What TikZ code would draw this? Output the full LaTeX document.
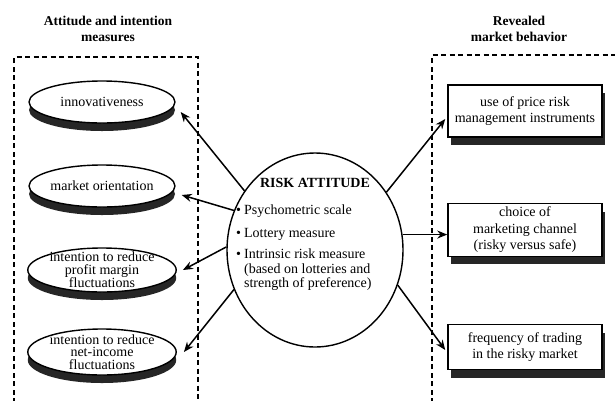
\documentclass[tikz,border=0pt]{standalone}
\usepackage{fontspec}
\setmainfont{Liberation Serif}
\usetikzlibrary{shapes,shadows,calc,arrows.meta}

\tikzset{
  disc/.style={ellipse, draw, line width=1.4pt, fill=white, minimum width=146pt, minimum height=42pt,
    inner xsep=0pt, inner ysep=-5pt, align=center, font=\fontsize{14}{12.5}\selectfont,
    general shadow={fill=black!85, shadow yshift=-8pt}},
  outcome/.style={rectangle, draw, line width=1.5pt, fill=white, minimum width=154pt, align=center,
    font=\fontsize{14}{16.5}\selectfont,
    general shadow={fill=black!85, shadow xshift=3pt, shadow yshift=-8pt}},
  group/.style={line width=1.6pt, dash pattern=on 5pt off 3.5pt},
  arr/.style={line width=1.5pt, -{Stealth[length=10pt,width=8pt]}},
  heading/.style={font=\bfseries\fontsize{13.5}{16}\selectfont, align=center}
}

\begin{document}
\begin{tikzpicture}[x=1pt, y=-1pt, font=\fontsize{14}{15}\selectfont]
	\useasboundingbox (0,0) rectangle (615,400);
	\fill[white] (0,0) rectangle (615,400);

	% the two groups
	\node[heading] (leftHead) at (108,29) {Attitude and intention\\measures};
	\node[heading] (rightHead) at (519,29) {Revealed\\market behavior};
	\draw[group] (14,420) -- (14,57) -- (198,57) -- (198,420);
	\draw[group] (432,420) -- (432,55) -- (630,55);

	% attitude and intention measures
	\node[disc] (innov) at (102,102) {innovativeness};
	\node[disc] (market) at (102,186) {market orientation};
	\node[disc, minimum height=44pt] (profit) at (102,270) {intention to reduce\\profit margin\\fluctuations};
	\node[disc, minimum height=46pt] (income) at (102,352) {intention to reduce\\net-income\\fluctuations};

	% risk attitude
	\node[ellipse, draw, line width=1.4pt, minimum width=176pt, minimum height=194pt] (risk) at (315,250) {};
	\node[font=\bfseries\fontsize{14}{15}\selectfont] (riskTitle) at (315,183) {RISK ATTITUDE};
	\node[anchor=north west, inner sep=0pt] (riskList) at (236,204) {%
		\begin{tabular}{@{}l@{\hspace{3pt}}l@{}}
		\textbullet & Psychometric scale\\[8pt]
		\textbullet & Lottery measure\\[6pt]
		\textbullet & Intrinsic risk measure\\[0pt]
		& (based on lotteries and\\[-1pt]
		& strength of preference)
		\end{tabular}};

	% revealed market behavior
	\node[outcome, minimum height=52pt] (price) at (525,111) {use of price risk\\management instruments};
	\node[outcome, minimum height=50pt] (channel) at (525,230) {choice of\\marketing channel\\(risky versus safe)};
	\node[outcome, minimum height=45pt] (trading) at (525,347) {frequency of trading\\in the risky market};

	% connectors
	\draw[arr] (risk.140) -- ([xshift=5pt, yshift=-10pt]innov.east);
	\draw[arr] (risk.154) -- ([xshift=6pt, yshift=-9pt]market.east);
	\draw[arr] (risk.178) -- ([xshift=6pt]profit.east);
	\draw[arr] (risk.206) -- ([xshift=7pt]income.east);
	\draw[arr] (risk.39) -- ([xshift=-2pt, yshift=-8pt]price.west);
	\draw[arr] (risk.10) -- (risk.10 -| channel.west);
	\draw[arr] (risk.-23) -- ([xshift=-2pt, yshift=-3pt]trading.west);
\end{tikzpicture}
\end{document}
